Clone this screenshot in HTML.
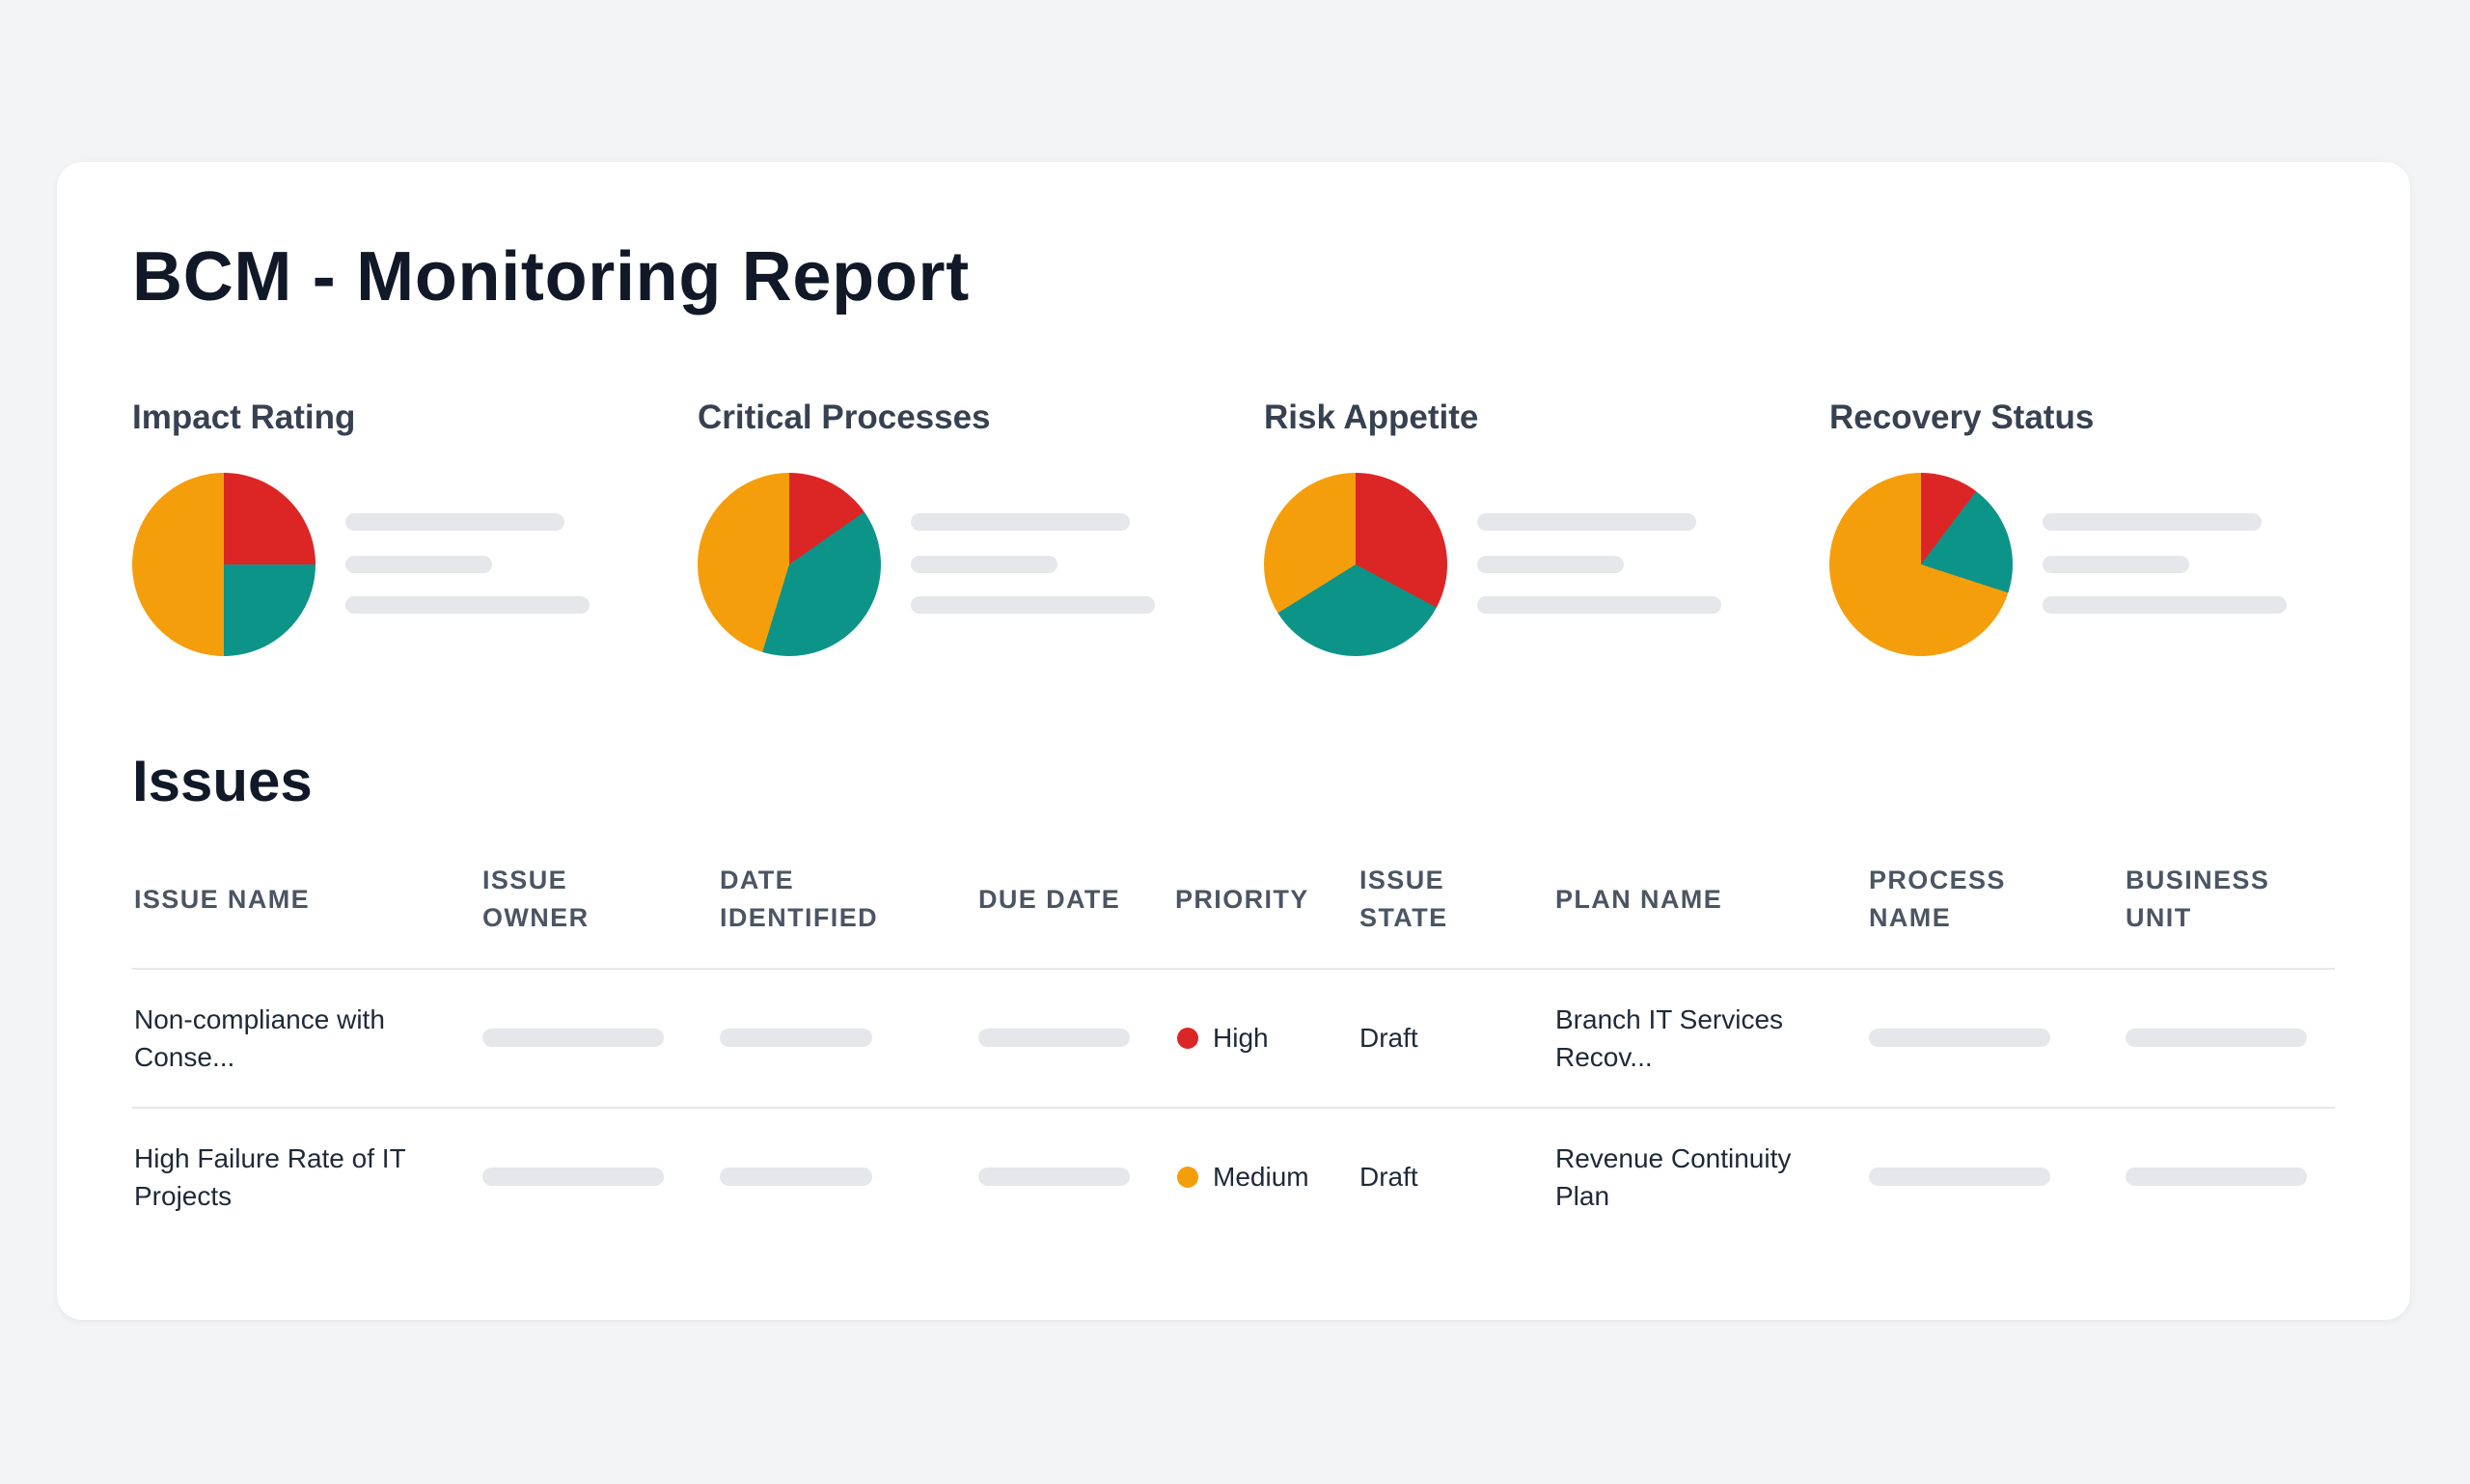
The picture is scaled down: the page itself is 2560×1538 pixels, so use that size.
<!DOCTYPE html>
<html><head><meta charset="utf-8"><style>
*{margin:0;padding:0;box-sizing:border-box}
body{width:2560px;height:1538px;background:#f3f4f6;font-family:"Liberation Sans",sans-serif;position:relative;overflow:hidden}
.card{position:absolute;left:59px;top:168px;width:2439px;height:1200px;background:#fff;border-radius:26px;box-shadow:0 2px 8px rgba(0,0,0,0.06)}
.a{position:absolute}
h1{position:absolute;left:137px;top:242px;font-size:72px;font-weight:bold;color:#111827;line-height:90px;letter-spacing:0.7px}
.st{position:absolute;top:410px;font-size:35px;font-weight:bold;color:#374151;line-height:46px}
.pie{position:absolute;top:490px;width:190px;height:190px;border-radius:50%}
.bar{position:absolute;height:18px;border-radius:9px;background:#e5e7eb}
.th{position:absolute;font-size:27px;font-weight:bold;color:#4b5563;letter-spacing:1.4px;line-height:39px}
.td{position:absolute;font-size:28px;color:#1f2937;line-height:39px}
.pb{position:absolute;height:19px;border-radius:10px;background:#e5e7eb}
.line{position:absolute;left:137px;width:2283px;height:2px;background:#e5e7eb}
.dot{position:absolute;width:22px;height:22px;border-radius:50%}
</style></head><body>
<div class="card"></div>
<h1>BCM - Monitoring Report</h1>

<div class="st" style="left:137px">Impact Rating</div>
<div class="st" style="left:723px">Critical Processes</div>
<div class="st" style="left:1310px">Risk Appetite</div>
<div class="st" style="left:1896px">Recovery Status</div>

<div class="pie" style="left:137px;background:conic-gradient(#dc2626 0 90deg,#0d9488 90deg 180deg,#f59e0b 180deg 360deg)"></div>
<div class="pie" style="left:723px;background:conic-gradient(#dc2626 0 55deg,#0d9488 55deg 197deg,#f59e0b 197deg 360deg)"></div>
<div class="pie" style="left:1310px;background:conic-gradient(#dc2626 0 118deg,#0d9488 118deg 238deg,#f59e0b 238deg 360deg)"></div>
<div class="pie" style="left:1896px;background:conic-gradient(#dc2626 0 37deg,#0d9488 37deg 108deg,#f59e0b 108deg 360deg)"></div>

<div class="bar" style="left:358px;top:532px;width:227px"></div>
<div class="bar" style="left:358px;top:576px;width:152px"></div>
<div class="bar" style="left:358px;top:618px;width:253px"></div>
<div class="bar" style="left:944px;top:532px;width:227px"></div>
<div class="bar" style="left:944px;top:576px;width:152px"></div>
<div class="bar" style="left:944px;top:618px;width:253px"></div>
<div class="bar" style="left:1531px;top:532px;width:227px"></div>
<div class="bar" style="left:1531px;top:576px;width:152px"></div>
<div class="bar" style="left:1531px;top:618px;width:253px"></div>
<div class="bar" style="left:2117px;top:532px;width:227px"></div>
<div class="bar" style="left:2117px;top:576px;width:152px"></div>
<div class="bar" style="left:2117px;top:618px;width:253px"></div>

<div class="a" style="left:137px;top:772px;font-size:60px;font-weight:bold;color:#111827;line-height:76px">Issues</div>

<div class="th" style="left:139px;top:913px">ISSUE NAME</div>
<div class="th" style="left:500px;top:893px">ISSUE<br>OWNER</div>
<div class="th" style="left:746px;top:893px">DATE<br>IDENTIFIED</div>
<div class="th" style="left:1014px;top:913px">DUE DATE</div>
<div class="th" style="left:1218px;top:913px">PRIORITY</div>
<div class="th" style="left:1409px;top:893px">ISSUE<br>STATE</div>
<div class="th" style="left:1612px;top:913px">PLAN NAME</div>
<div class="th" style="left:1937px;top:893px">PROCESS<br>NAME</div>
<div class="th" style="left:2203px;top:893px">BUSINESS<br>UNIT</div>

<div class="line" style="top:1003px"></div>
<div class="line" style="top:1147px"></div>

<div class="td" style="left:139px;top:1037px">Non-compliance with<br>Conse...</div>
<div class="pb" style="left:500px;top:1066px;width:188px"></div>
<div class="pb" style="left:746px;top:1066px;width:158px"></div>
<div class="pb" style="left:1014px;top:1066px;width:157px"></div>
<div class="dot" style="left:1220px;top:1065px;background:#dc2626"></div>
<div class="td" style="left:1257px;top:1056px">High</div>
<div class="td" style="left:1409px;top:1056px">Draft</div>
<div class="td" style="left:1612px;top:1037px">Branch IT Services<br>Recov...</div>
<div class="pb" style="left:1937px;top:1066px;width:188px"></div>
<div class="pb" style="left:2203px;top:1066px;width:188px"></div>

<div class="td" style="left:139px;top:1181px">High Failure Rate of IT<br>Projects</div>
<div class="pb" style="left:500px;top:1210px;width:188px"></div>
<div class="pb" style="left:746px;top:1210px;width:158px"></div>
<div class="pb" style="left:1014px;top:1210px;width:157px"></div>
<div class="dot" style="left:1220px;top:1209px;background:#f59e0b"></div>
<div class="td" style="left:1257px;top:1200px">Medium</div>
<div class="td" style="left:1409px;top:1200px">Draft</div>
<div class="td" style="left:1612px;top:1181px">Revenue Continuity<br>Plan</div>
<div class="pb" style="left:1937px;top:1210px;width:188px"></div>
<div class="pb" style="left:2203px;top:1210px;width:188px"></div>
</body></html>
